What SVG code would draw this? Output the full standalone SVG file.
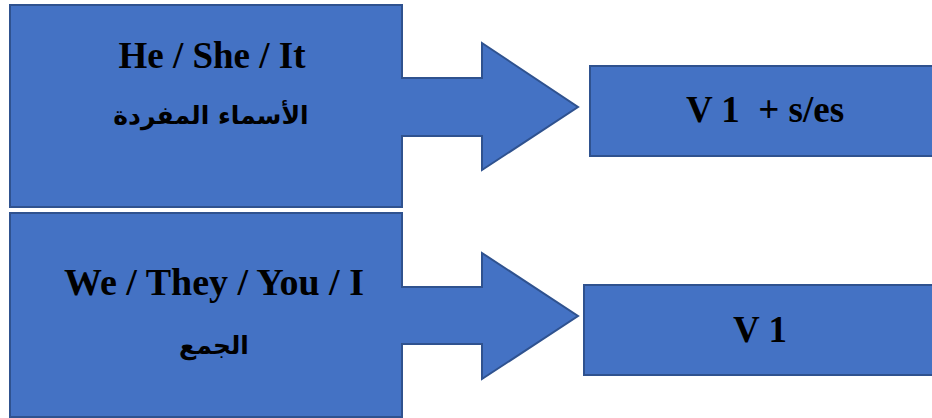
<svg xmlns="http://www.w3.org/2000/svg" width="932" height="418" viewBox="0 0 932 418">
<style>
.shape{fill:#4472C4;stroke:#2F528F;stroke-width:2}
.en{font-family:"Liberation Serif","Times New Roman",serif;font-weight:bold;font-size:37px;fill:#000;text-anchor:middle;white-space:pre}
.ar{font-family:"DejaVu Sans","Noto Sans",sans-serif;font-weight:bold;font-size:25px;fill:#000;text-anchor:middle;direction:rtl}
</style>
<rect width="932" height="418" fill="#fff"/>
<g id="node-he-she-it">
<path class="shape" d="M10,5 H402 V78 H482 V43 L578,107 L482,170 V136 H402 V207 H10 Z"/>
<text class="en" x="212" y="68">He / She / It</text>
<text class="ar" x="211" y="124">الأسماء المفردة</text>
</g>
<g id="node-we-they">
<path class="shape" d="M10,213 H402 V287 H482 V253 L578,316 L482,379 V344 H402 V417 H10 Z"/>
<text class="en" x="214" y="295" style="font-size:38px">We / They / You / I</text>
<text class="ar" x="214" y="354">الجمع</text>
</g>
<g id="node-v1-ses">
<rect class="shape" x="590" y="66" width="350" height="90"/>
<text class="en" x="765" y="122" xml:space="preserve">V 1  + s/es</text>
</g>
<g id="node-v1">
<rect class="shape" x="584" y="285" width="356" height="90"/>
<text class="en" x="760" y="342">V 1</text>
</g>
<g id="connectors"></g>
</svg>
